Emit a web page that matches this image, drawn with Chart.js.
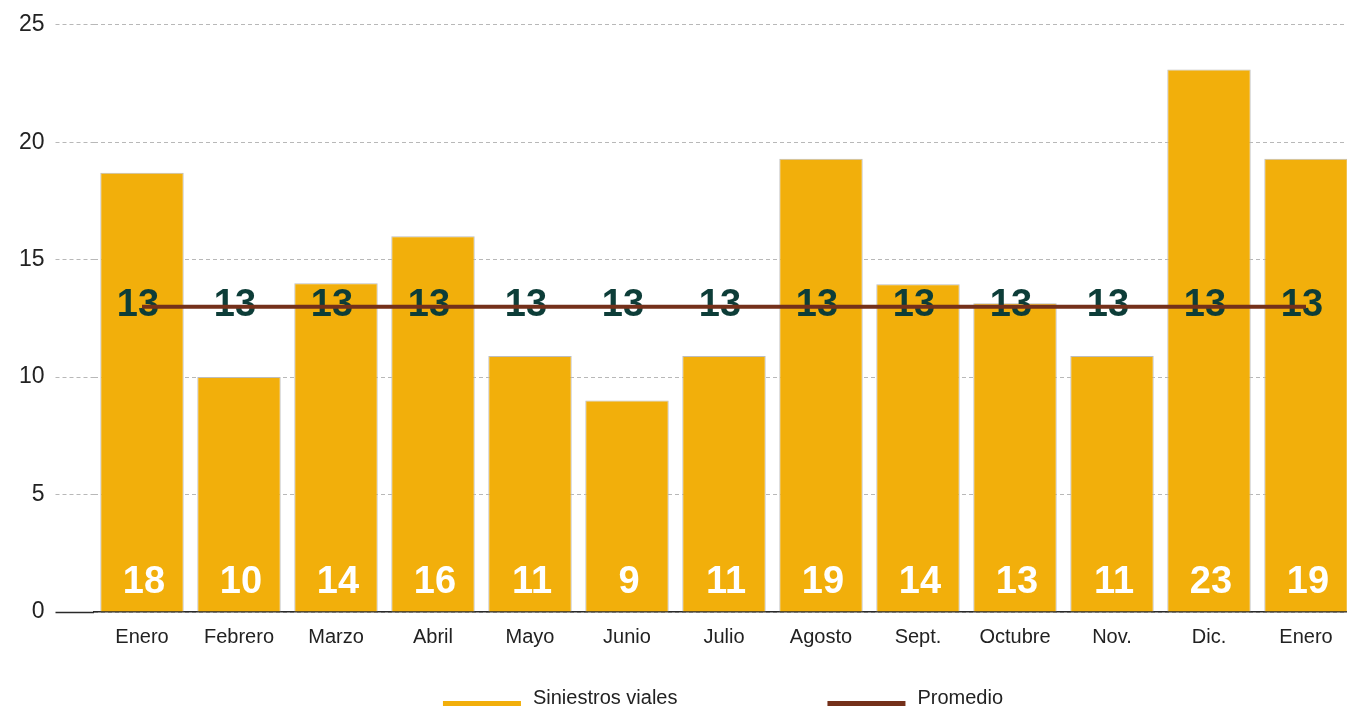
<!DOCTYPE html>
<html>
<head>
<meta charset="utf-8">
<script src="https://cdn.jsdelivr.net/npm/chart.js@4.4.0/dist/chart.umd.min.js"></script>
<style>
  html, body { margin: 0; padding: 0; background: #fff; overflow: hidden; }
  #wrap { width: 1347px; height: 707px; overflow: hidden; }
</style>
</head>
<body>
<div id="wrap"><canvas id="siniestrosChart" width="1356" height="707"></canvas></div>
<script>
// datos
var meses = ['Enero', 'Febrero', 'Marzo', 'Abril', 'Mayo', 'Junio', 'Julio', 'Agosto', 'Sept.', 'Octubre', 'Nov.', 'Dic.', 'Enero'];
var siniestros = [18, 10, 14, 16, 11, 9, 11, 19, 14, 13, 11, 23, 19];          // valores impresos
var alturas = [18.7, 10, 14, 16, 10.9, 9, 10.9, 19.3, 13.95, 13.15, 10.9, 23.1, 19.3]; // altura dibujada de cada barra
var promedio = [13, 13, 13, 13, 13, 13, 13, 13, 13, 13, 13, 13, 13];
var ticksY = [0, 5, 10, 15, 20, 25];

var fuente = "'Liberation Sans', Arial, Helvetica, sans-serif";
var naranja = '#F2AF0B';
var marron = '#74301A';

// etiquetas de valores (barras abajo, promedio sobre la linea)
var etiquetas = {
    id: 'etiquetas',
    afterDatasetDraw: function (chart, args) {
        if (args.index !== 0) return;
        var ctx = chart.ctx;
        var y0 = chart.scales.y.getPixelForValue(0);
        var barras = chart.getDatasetMeta(0).data;
        var puntos = chart.getDatasetMeta(1).data;
        ctx.save();
        ctx.font = 'bold 38px ' + fuente;
        ctx.textAlign = 'center';
        ctx.textBaseline = 'middle';
        barras.forEach(function (bar, i) {
            ctx.fillStyle = '#ffffff';
            ctx.fillText(String(siniestros[i]), bar.x + 2, y0 - 29);
        });
        puntos.forEach(function (p, i) {
            ctx.fillStyle = '#0D3D38';
            ctx.fillText(String(promedio[i]), p.x - 4, p.y - 1);
        });
        ctx.restore();
    }
};

// leyenda dibujada a mano, centrada bajo el area del grafico
var leyenda = {
    id: 'leyenda',
    afterDraw: function (chart) {
        var ctx = chart.ctx;
        var area = chart.chartArea;
        var items = chart.data.datasets.map(function (ds) {
            return { text: ds.label, color: ds.type === 'line' ? ds.borderColor : ds.backgroundColor };
        });
        ctx.save();
        ctx.font = '20px ' + fuente;
        ctx.textBaseline = 'middle';
        var boxW = 78, hueco = 12, sep = 150;
        var total = 0;
        items.forEach(function (it, i) {
            it.w = boxW + hueco + ctx.measureText(it.text).width;
            total += it.w + (i ? sep : 0);
        });
        var x = (area.left + area.right) / 2 - 1 - total / 2;
        items.forEach(function (it) {
            ctx.fillStyle = it.color;
            ctx.fillRect(x, 701, boxW, 5);
            ctx.fillStyle = '#222';
            ctx.fillText(it.text, x + boxW + hueco, 698);
            x += it.w + sep;
        });
        ctx.restore();
    }
};

var ctx = document.getElementById('siniestrosChart');

var myChart = new Chart(ctx.getContext('2d'), {
    data: {
        labels: meses,
        datasets: [{
            type: 'bar',
            label: 'Siniestros viales',
            data: alturas,
            backgroundColor: naranja,
            borderColor: '#BDBDBD',
            borderWidth: 1,
            barPercentage: 0.86,
            categoryPercentage: 1,
            order: 2
        }, {
            type: 'line',
            label: 'Promedio',
            data: promedio,
            borderColor: marron,
            backgroundColor: marron,
            borderWidth: 4,
            pointRadius: 0,
            tension: 0,
            order: 1
        }]
    },
    options: {
        responsive: false,
        animation: false,
        layout: {
            padding: { top: 18, right: 1.5, bottom: 45, left: 0 }
        },
        plugins: {
            legend: { display: false },
            tooltip: { enabled: false }
        },
        scales: {
            x: {
                grid: { display: false, drawTicks: false },
                border: { display: true, color: '#2a2a2a', width: 1.5 },
                ticks: {
                    color: '#222',
                    padding: 13,
                    font: { family: fuente, size: 20 },
                    maxRotation: 0,
                    autoSkip: false
                }
            },
            y: {
                min: 0,
                max: 25,
                afterBuildTicks: function (scale) {
                    scale.ticks = ticksY.map(function (v) { return { value: v }; });
                },
                afterFit: function (scale) {
                    scale.width = 93.5;
                },
                border: { display: false, dash: [4, 3] },
                grid: {
                    color: '#B8B8B8',
                    lineWidth: 1,
                    tickLength: 38,
                    tickColor: function (c) { return c.tick && c.tick.value === 0 ? '#2a2a2a' : '#B8B8B8'; },
                    tickWidth: function (c) { return c.tick && c.tick.value === 0 ? 1.5 : 1; },
                    tickBorderDash: function (c) { return c.tick && c.tick.value === 0 ? [] : [4, 3]; }
                },
                ticks: {
                    color: '#222',
                    padding: 11,
                    font: { family: fuente, size: 23 }
                }
            }
        }
    },
    plugins: [etiquetas, leyenda]
});
</script>
</body>
</html>
